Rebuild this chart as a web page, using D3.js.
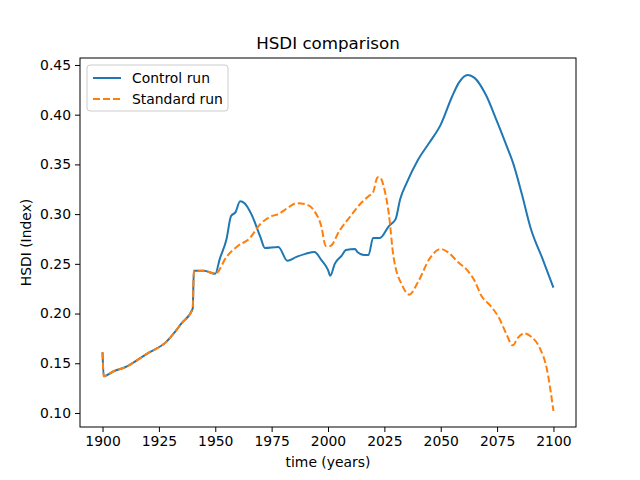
<!DOCTYPE html>
<meta charset="utf-8">
<style>
body { margin: 0; background: #fff; }
text { font-family: "DejaVu Sans", sans-serif; fill: #000; }
</style>
<body>
<svg id="chart" width="640" height="480"></svg>
<script src="https://cdn.jsdelivr.net/npm/d3@7"></script>
<script>
var early = [[1900,0.161],[1900.5,0.137],[1905,0.142],[1910,0.146],[1920,0.160],[1928,0.171],
  [1935,0.190],[1940,0.205],[1940.5,0.243],[1945,0.243],[1950,0.240]];
var controlRun = early.concat([[1952,0.255],[1955,0.275],[1957,0.298],[1959,0.302],[1961,0.313],
  [1963,0.311],[1966,0.300],[1970,0.277],[1972,0.266],[1978,0.267],[1982,0.253],[1986,0.257],
  [1990,0.260],[1994,0.262],[1997,0.254],[2000,0.244],[2001,0.238],[2003,0.250],[2006,0.258],
  [2008,0.264],[2012,0.265],[2013,0.262],[2016,0.259],[2018,0.259],[2020,0.276],[2023,0.276],
  [2027,0.288],[2030,0.295],[2032,0.315],[2035,0.332],[2040,0.355],[2045,0.372],[2050,0.390],
  [2055,0.418],[2058,0.432],[2062,0.440],[2065,0.437],[2070,0.420],[2075,0.393],[2080,0.364],
  [2082,0.352],[2086,0.320],[2090,0.285],[2095,0.256],[2100,0.226]]);
var standardRun = early.concat([[1955,0.257],[1960,0.268],[1965,0.275],[1970,0.290],[1975,0.298],
  [1978,0.300],[1982,0.306],[1986,0.311],[1990,0.310],[1994,0.303],[1997,0.288],[1999,0.268],
  [2001,0.268],[2005,0.283],[2010,0.298],[2015,0.312],[2018,0.318],[2020,0.322],[2022,0.337],
  [2023,0.337],[2025,0.325],[2027,0.300],[2029,0.258],[2033,0.228],[2036,0.219],[2040,0.232],
  [2045,0.255],[2050,0.265],[2053,0.262],[2058,0.251],[2062,0.243],[2065,0.233],[2068,0.218],
  [2072,0.208],[2076,0.195],[2079,0.180],[2082,0.168],[2084,0.175],[2087,0.180],[2090,0.177],
  [2094,0.165],[2097,0.145],[2100,0.102]]);
var xTicks = [1900,1925,1950,1975,2000,2025,2050,2075,2100];
var yTicks = [0.10,0.15,0.20,0.25,0.30,0.35,0.40,0.45];

var svg = d3.select("#chart");
var L = 80, R = 576, T = 58, B = 427;
var x = d3.scaleLinear().domain([1890, 2110]).range([L, R]);
var y = d3.scaleLinear().domain([0.0859, 0.457]).range([B, T]);

var line = d3.line().curve(d3.curveMonotoneX)
  .x(function(d){return x(d[0]);}).y(function(d){return y(d[1]);});
svg.append("path").datum(controlRun).attr("d", line).attr("fill","none")
  .attr("stroke","#1f77b4").attr("stroke-width",2);
svg.append("path").datum(standardRun).attr("d", line).attr("fill","none")
  .attr("stroke","#ff7f0e").attr("stroke-width",2).attr("stroke-dasharray","7,3");

var xa = svg.append("g").attr("transform","translate(0,"+B+")")
  .call(d3.axisBottom(x).tickValues(xTicks).tickFormat(d3.format("d")).tickSize(5).tickPadding(4));
var ya = svg.append("g").attr("transform","translate("+L+",0)")
  .call(d3.axisLeft(y).tickValues(yTicks).tickFormat(d3.format(".2f")).tickSize(5).tickPadding(4));
[xa, ya].forEach(function(a){
  a.select(".domain").remove();
  a.selectAll("text").style("font-size","13.9px");
});
svg.append("rect").attr("x",L).attr("y",T).attr("width",R-L).attr("height",B-T)
  .attr("fill","none").attr("stroke","#000").attr("stroke-width",1);

svg.append("text").attr("x",(L+R)/2).attr("y",T-9).attr("text-anchor","middle")
  .style("font-size","16.7px").text("HSDI comparison");
svg.append("text").attr("x",(L+R)/2).attr("y",467).attr("text-anchor","middle")
  .style("font-size","13.9px").text("time (years)");
svg.append("text").attr("transform","translate(31,"+((T+B)/2)+") rotate(-90)")
  .attr("text-anchor","middle").style("font-size","13.9px").text("HSDI (Index)");

var lg = svg.append("g").attr("transform","translate(87,65)");
lg.append("rect").attr("width",141).attr("height",46).attr("rx",3).attr("fill","#fff")
  .attr("stroke","#ccc");
var items = [["Control run","#1f77b4",null],["Standard run","#ff7f0e","7,3"]];
items.forEach(function(it,i){
  var yy = 13 + i*21;
  lg.append("line").attr("x1",6).attr("x2",34).attr("y1",yy).attr("y2",yy)
    .attr("stroke",it[1]).attr("stroke-width",2).attr("stroke-dasharray",it[2]);
  lg.append("text").attr("x",45).attr("y",yy+5).style("font-size","13.9px").text(it[0]);
});
</script>
</body>
